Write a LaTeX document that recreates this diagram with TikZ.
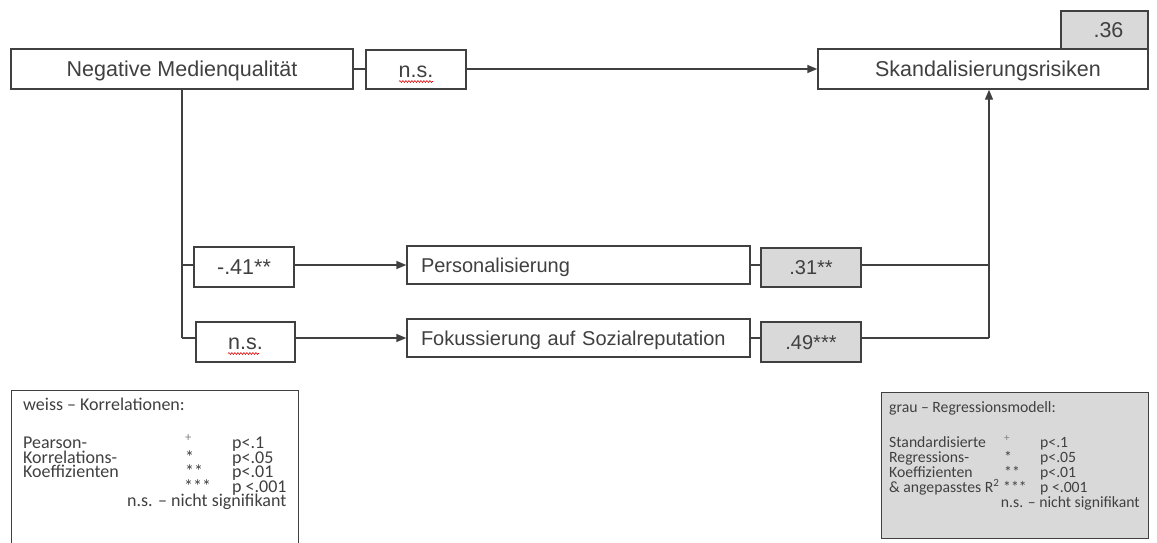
\documentclass[tikz,border=0pt]{standalone}
\usepackage{fontspec}
\setmainfont{Liberation Sans}
\newfontfamily\legfont{Carlito}
\usetikzlibrary{arrows.meta,decorations.pathmorphing}
\definecolor{ink}{HTML}{404040}
\definecolor{boxgray}{HTML}{D9D9D9}
\begin{document}
\begin{tikzpicture}[x=1pt,y=-1pt,
  every node/.style={text=ink},
  wbox/.style={draw=ink,line width=1.4pt,fill=white,inner sep=0pt},
  gbox/.style={draw=ink,line width=1.4pt,fill=boxgray,inner sep=0pt},
  conn/.style={draw=ink,line width=1.4pt},
  arr/.style={conn,-{Triangle[length=10pt,width=8pt]}},
  bigtxt/.style={font=\fontsize{21.5}{24}\selectfont,text height=15.4pt,text depth=0pt},
  midtxt/.style={font=\fontsize{20}{23}\selectfont,text height=14.3pt,text depth=0pt},
  legtxt/.style={font=\legfont\fontsize{18}{14.5}\selectfont,anchor=base west,inner sep=0pt},
  legtxtb/.style={font=\legfont\fontsize{15.7}{14.5}\selectfont,anchor=base west,inner sep=0pt},
  squig/.style={draw=red!85!black,line width=0.6pt,decorate,decoration={snake,amplitude=0.9pt,segment length=3pt}}
]
\useasboundingbox (0,0) rectangle (1157,542);
\fill[white] (0,0) rectangle (1157,542);

% top row
\node[wbox,minimum width=342pt,minimum height=40pt,bigtxt] (neg) at (182,69) {Negative Medienqualität};
\node[wbox,minimum width=100pt,minimum height=39pt,bigtxt] (ns1) at (416,69.5) {n.s.};
\node[wbox,minimum width=330pt,minimum height=40pt,bigtxt] (sk) at (983,69) {\hspace*{10pt}Skandalisierungsrisiken};
\node[gbox,minimum width=87pt,minimum height=38pt,bigtxt] (r36) at (1104.5,30) {\hspace*{8pt}.36};

% middle boxes
\node[wbox,minimum width=100pt,minimum height=40pt,bigtxt] (b41) at (244,267) {-.41**};
\node[wbox,minimum width=99pt,minimum height=40pt,bigtxt] (ns2) at (245.5,342) {n.s.};
\node[wbox,minimum width=343pt,minimum height=38pt,midtxt,text width=315pt,align=left] (pers) at (578.5,265) {Personalisierung};
\node[wbox,minimum width=343pt,minimum height=38pt,midtxt,text width=315pt,align=left] (fok) at (578.5,338) {Fokussierung auf Sozialreputation};
\node[gbox,minimum width=100pt,minimum height=39pt,midtxt] (b31) at (811,267.5) {.31**};
\node[gbox,minimum width=100pt,minimum height=40pt,midtxt] (b49) at (811,342) {.49***};

% coordinates
\coordinate (j1) at (182,265);
\coordinate (j2) at (182,338);
\coordinate (k1) at (989,265);
\coordinate (k2) at (989,338);

% connectors
\draw[conn] (neg.east |- 0,69) -- (ns1.west |- 0,69);
\draw[arr] (ns1.east |- 0,69) -- (sk.west |- 0,69);
\draw[conn] (neg.south -| j1) -- (j2);
\draw[conn] (j1) -- (b41.west |- j1);
\draw[conn] (j2) -- (ns2.west |- j2);
\draw[arr] (b41.east |- j1) -- (pers.west |- j1);
\draw[arr] (ns2.east |- j2) -- (fok.west |- j2);
\draw[conn] (pers.east |- j1) -- (b31.west |- j1);
\draw[conn] (fok.east |- j2) -- (b49.west |- j2);
\draw[conn] (b31.east |- k1) -- (k1);
\draw[conn] (b49.east |- k2) -- (k2);
\draw[arr] (k2) -- (sk.south -| k2);

% spell-check squiggles
\draw[squig] (399,81.5) -- (433,81.5);
\draw[squig] (228,353.5) -- (259,353.5);

% left legend
\draw[draw=ink,line width=1pt] (11,550) -- (11,390) -- (298,390) -- (298,550);
\node[legtxt] (lt) at (23,410) {weiss – Korrelationen:};
\node[legtxt] (l1) at (23,448) {Pearson-};
\node[legtxt] (l2) at (23,463) {Korrelations-};
\node[legtxt] (l3) at (23,477.5) {Koeffizienten};
\node[legtxt] (ls1) at (185,448) {\textsuperscript{\color{gray}+}};
\node[legtxt] (ls2) at (185,463) {*};
\node[legtxt] (ls3) at (185,477.5) {**};
\node[legtxt] (ls4) at (184,492) {***};
\node[legtxt] (lp1) at (232,448) {p<.1};
\node[legtxt] (lp2) at (232,463) {p<.05};
\node[legtxt] (lp3) at (232,477.5) {p<.01};
\node[legtxt] (lp4) at (232,492) {p <.001};
\node[legtxt] (lns) at (127,506.5) {n.s. – nicht signifikant};

% right legend
\draw[draw=ink,line width=1pt,fill=boxgray] (881,392) rectangle (1148,538);
\node[legtxtb] (rt) at (889,412) {grau – Regressionsmodell:};
\node[legtxtb] (r1) at (889,447) {Standardisierte};
\node[legtxtb] (r2) at (889,462) {Regressions-};
\node[legtxtb] (r3) at (889,477) {Koeffizienten};
\node[legtxtb] (r4) at (889,492) {\& angepasstes R\textsuperscript{2}};
\node[legtxtb] (rs1) at (1004,447) {\textsuperscript{\color{gray}+}};
\node[legtxtb] (rs2) at (1004,462) {*};
\node[legtxtb] (rs3) at (1004,477) {**};
\node[legtxtb] (rs4) at (1003,492) {***};
\node[legtxtb] (rp1) at (1040,447) {p<.1};
\node[legtxtb] (rp2) at (1040,462) {p<.05};
\node[legtxtb] (rp3) at (1040,477) {p<.01};
\node[legtxtb] (rp4) at (1040,492) {p <.001};
\node[legtxtb,anchor=base east] (rns) at (1140,507) {n.s. – nicht signifikant};
\end{tikzpicture}
\end{document}
